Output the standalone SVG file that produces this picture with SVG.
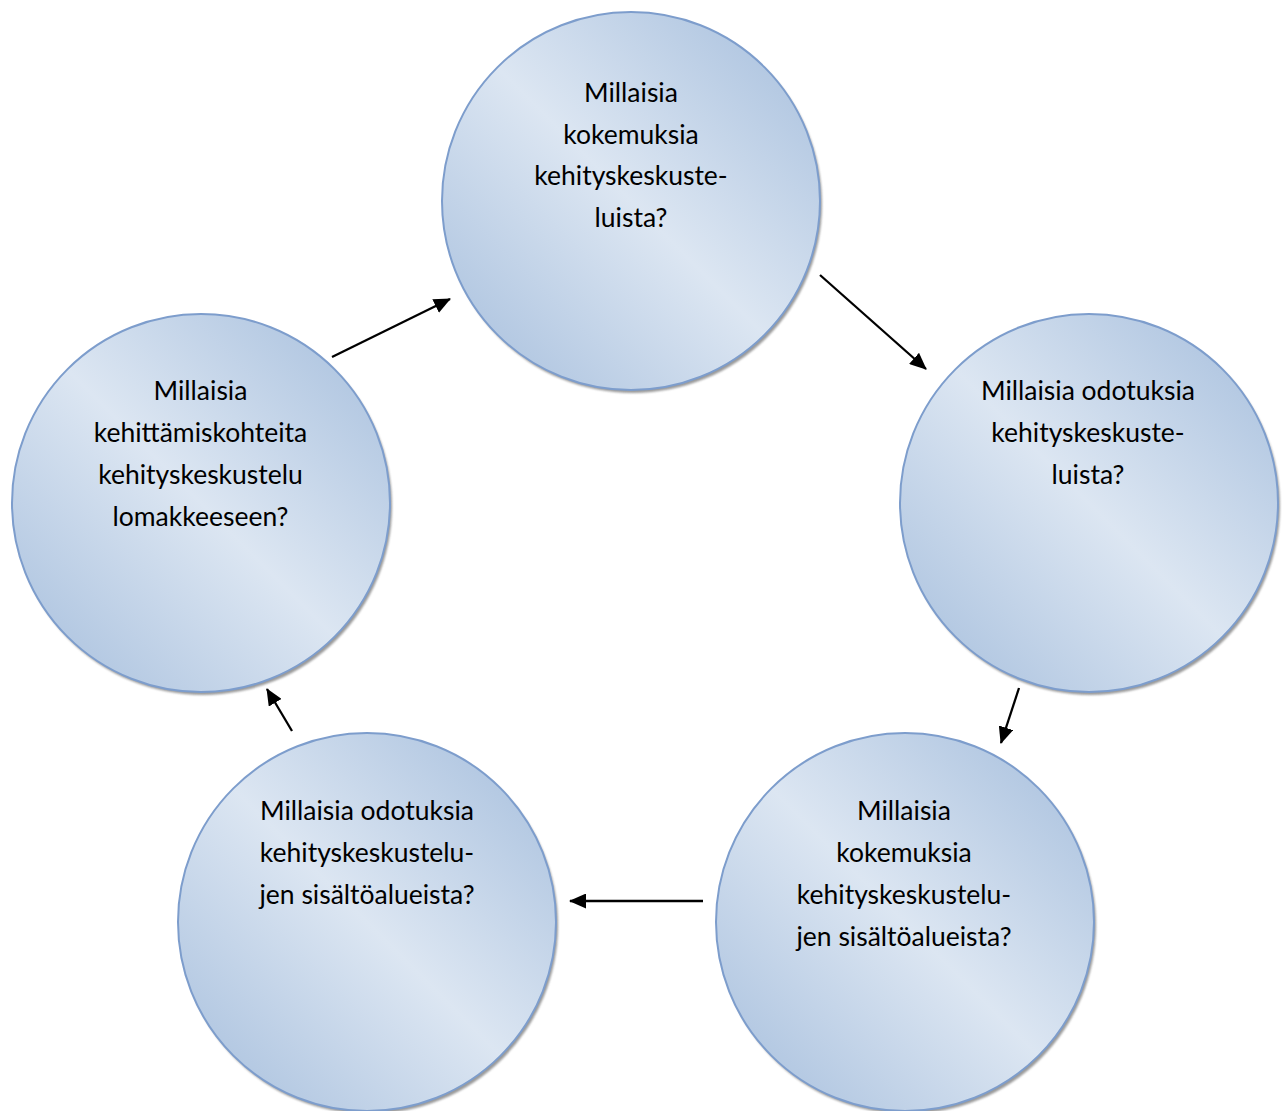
<svg xmlns="http://www.w3.org/2000/svg" width="1282" height="1111" viewBox="0 0 1282 1111">
  <defs>
    <linearGradient id="bubbleFill" x1="0" y1="1" x2="1" y2="0">
      <stop offset="0" stop-color="#a4bddc"/>
      <stop offset="0.5" stop-color="#dce6f2"/>
      <stop offset="1" stop-color="#a4bddc"/>
    </linearGradient>
    <filter id="softShadow" x="-10%" y="-10%" width="120%" height="120%">
      <feGaussianBlur stdDeviation="1.2"/>
    </filter>
    <marker id="arrowHead" viewBox="0 0 17 15" refX="16" refY="7.5" markerWidth="17" markerHeight="15" markerUnits="userSpaceOnUse" orient="auto">
      <path d="M0,0 L17,7.5 L0,15 Z" fill="#000"/>
    </marker>
  </defs>
  <style>
    .shadow { fill: #6f6f6f; opacity: 0.7; filter: url(#softShadow); }
    .bubble { fill: url(#bubbleFill); stroke: #7d9dcc; stroke-width: 2; }
    .label { font-family: Lato, "Open Sans", sans-serif; font-size: 26.5px; fill: #000; text-anchor: middle; }
    .link { stroke: #000; stroke-width: 2.3; fill: none; marker-end: url(#arrowHead); }
  </style>
  <rect width="1282" height="1111" fill="#fff"/>

  <!-- cycle steps -->
  <g id="node-kokemuksia">
    <circle class="shadow" cx="633" cy="204" r="189"/>
    <circle class="bubble" cx="631" cy="201" r="189"/>
    <text class="label" x="631" y="102">Millaisia</text>
    <text class="label" x="631" y="143.5">kokemuksia</text>
    <text class="label" x="631" y="185">kehityskeskuste-</text>
    <text class="label" x="631" y="226.5">luista?</text>
  </g>

  <g id="node-odotuksia">
    <circle class="shadow" cx="1091" cy="506" r="189"/>
    <circle class="bubble" cx="1089" cy="503" r="189"/>
    <text class="label" x="1088" y="400">Millaisia odotuksia</text>
    <text class="label" x="1088" y="442">kehityskeskuste-</text>
    <text class="label" x="1088" y="484">luista?</text>
  </g>

  <g id="node-kokemuksia-sisalto">
    <circle class="shadow" cx="907" cy="925" r="189"/>
    <circle class="bubble" cx="905" cy="922" r="189"/>
    <text class="label" x="904" y="820">Millaisia</text>
    <text class="label" x="904" y="862">kokemuksia</text>
    <text class="label" x="904" y="904">kehityskeskustelu-</text>
    <text class="label" x="904" y="946">jen sisältöalueista?</text>
  </g>

  <g id="node-odotuksia-sisalto">
    <circle class="shadow" cx="369" cy="925" r="189"/>
    <circle class="bubble" cx="367" cy="922" r="189"/>
    <text class="label" x="367" y="820">Millaisia odotuksia</text>
    <text class="label" x="367" y="862">kehityskeskustelu-</text>
    <text class="label" x="367" y="904">jen sisältöalueista?</text>
  </g>

  <g id="node-kehittamiskohteita">
    <circle class="shadow" cx="203" cy="506" r="189"/>
    <circle class="bubble" cx="201" cy="503" r="189"/>
    <text class="label" x="200.5" y="400">Millaisia</text>
    <text class="label" x="200.5" y="442">kehittämiskohteita</text>
    <text class="label" x="200.5" y="484">kehityskeskustelu</text>
    <text class="label" x="200.5" y="526">lomakkeeseen?</text>
  </g>

  <!-- arrows between steps -->
  <g id="connectors">
    <line class="link" x1="820" y1="275" x2="926" y2="369"/>
    <line class="link" x1="1019" y1="688" x2="1001" y2="743"/>
    <line class="link" x1="703" y1="901" x2="570" y2="901"/>
    <line class="link" x1="292" y1="731" x2="267" y2="689"/>
    <line class="link" x1="332" y1="357" x2="450" y2="299"/>
  </g>
</svg>
